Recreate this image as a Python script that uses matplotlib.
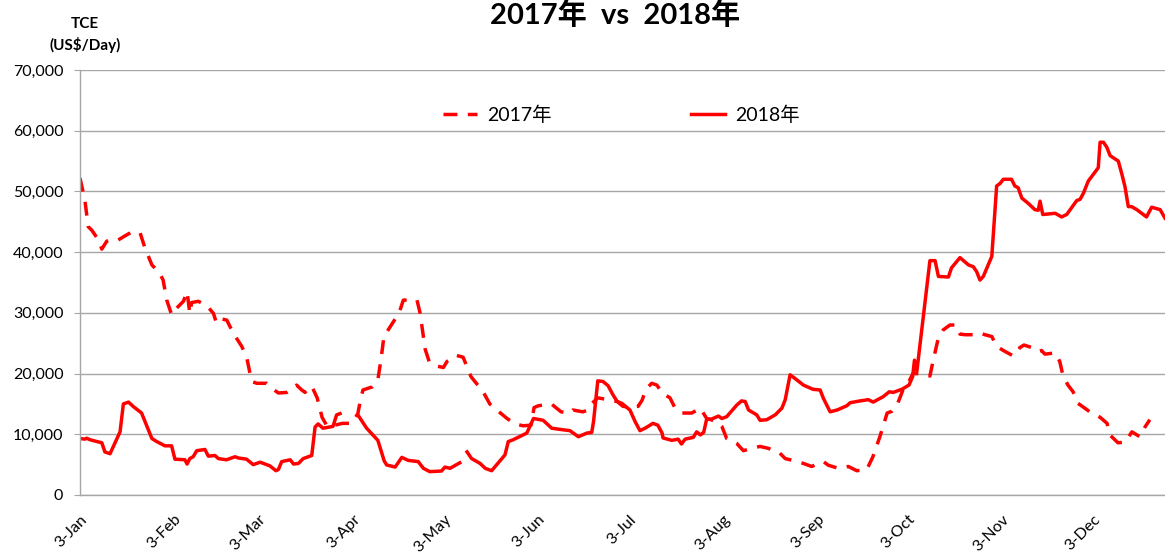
import numpy as np
import pandas as pd
import matplotlib
matplotlib.use("Agg")
import matplotlib.pyplot as plt
from matplotlib.ticker import FuncFormatter
from matplotlib.transforms import ScaledTranslation

plt.rcParams["font.family"] = ["Lato", "Noto Sans CJK SC", "DejaVu Sans"]

# ---------------------------------------------------
# data: x = days since 3-Jan, y = TCE (US$/day)
# ---------------------------------------------------
days_2017 = [0, 1.6, 2.7, 3.9, 6.1, 7.2, 8.8, 10.4, 12.6, 14.9, 17.0, 19.8, 21.4, 23.7, 26.3,
             27.4, 28.6, 30.2, 31.9, 34.1, 35.3, 36.2, 36.8, 39.0, 41.8, 44.0, 45.0, 46.7, 48.4,
             50.6, 53.3, 54.9, 56.0, 56.6, 58.3, 61.5, 63.2, 65.4, 68.2, 70.4, 71.4, 73.1, 74.2,
             75.8, 76.5, 78.2, 79.8, 81.5, 84.0, 86.5, 89.6, 91.6, 92.6, 93.3, 96.3, 98.2, 99.2,
             100.2, 105.2, 106.6, 111.1, 112.1, 113.8, 115.1, 117.0, 119.8, 121.0, 124.0, 126.3,
             128.9, 132.9, 135.1, 137.4, 140.8, 143.4, 146.1, 148.7, 149.7, 151.1, 155.4, 158.6,
             161.5, 162.5, 165.8, 167.5, 168.8, 170.7, 174.1, 177.1, 179.0, 181.3, 184.0, 185.3,
             186.3, 187.3, 188.5, 190.2, 191.9, 194.5, 196.2, 198.4, 201.7, 204.5, 206.6, 210.0,
             211.6, 213.2, 216.5, 218.7, 221.5, 224.2, 226.8, 230.3, 232.5, 234.1, 238.5, 241.2,
             245.1, 246.7, 250.0, 253.3, 256.1, 259.4, 261.4, 263.7, 266.1, 267.7, 269.6, 271.3,
             273.0, 274.6, 277.0, 280.2, 281.2, 282.9, 284.6, 286.8, 288.8, 290.1, 291.8, 294.5,
             296.7, 298.3, 300.6, 302.2, 304.4, 307.7, 309.9, 311.2, 313.7, 315.9, 317.0, 318.1,
             321.5, 323.0, 324.0, 325.7, 327.4, 329.0, 330.7, 332.9, 333.6, 336.3, 338.6, 339.5,
             342.2, 344.5, 346.8, 349.4, 351.1, 352.7]
tce_2017 = [52200, 48600, 44200, 43600, 42000, 40500, 41800, 42100, 42000, 42700, 43300, 43200,
            40700, 37900, 36500, 35400, 32100, 29700, 30800, 31900, 33500, 29900, 31700, 31900,
            31200, 29900, 28300, 29000, 28800, 26600, 24500, 22800, 20100, 18700, 18400, 18400,
            17600, 16800, 16900, 17600, 18100, 17300, 16900, 17900, 17800, 16000, 12800, 11300,
            11500, 11800, 11800, 13400, 16000, 17300, 17800, 19000, 22200, 26100, 30000, 32100,
            32100, 30000, 24000, 22000, 21300, 21000, 22000, 23000, 22700, 19500, 17000, 15000,
            14000, 12600, 11700, 11400, 11500, 14400, 14700, 15000, 13700, 13500, 14000, 13700,
            14000, 15100, 16000, 15700, 15400, 14600, 14500, 14600, 15600, 17000, 17800, 18400,
            18100, 16800, 16000, 14300, 13500, 13500, 14300, 12600, 12100, 11300, 9300, 8500,
            7300, 7700, 8000, 7700, 7100, 6000, 5800, 5200, 4700, 5500, 4900, 4400, 4700, 4000,
            4200, 6300, 9600, 13500, 13800, 15100, 17300, 18400, 20000, 20000, 19600, 22000,
            25700, 27200, 28000, 28000, 26500, 26400, 26400, 26700, 26400, 26100, 24500, 23800,
            22900, 24300, 24700, 24300, 23600, 23800, 23200, 23400, 22000, 19800, 18100, 17000,
            15100, 14500, 13700, 13500, 12800, 11800, 9900, 8600, 8700, 10400, 9600, 11200, 12400]

# nan = no fixing (holidays)
days_2018 = [0, 1.6, 2.2, 3.3, 7.2, 8.2, 9.9, 13.2, 14.3, 16.0, 17.5, 20.3, 23.7, 25.3, 28.0,
             30.2, 31.3, 34.6, 35.3, 36.2, 37.3, 38.5, 41.2, 42.3, 44.5, 45.6, 48.3, 51.1, 52.2,
             54.9, 57.1, 59.4, 62.6, 64.6, 65.4, 66.5, 69.3, 70.4, 72.0, 73.6, 76.4, 77.5, 78.5,
             80.1, 83.4, 84.6, 85.7, 88.5, 91.6, 94.5, 98.2, 100.3, 101.1, 103.9, 106.1, 108.2,
             111.5, 113.2, 115.3, 119.2, 120.3, 122.0, 125.2, 126.4, 127.6, 129.1, 131.9, 133.6,
             135.7, 140.1, 141.2, 142.8, 147.3, 149.5, 152.7, 155.5, 158.3, 161.5, 164.3, 167.1,
             168.7, 169.3, 170.7, 172.4, 174.1, 175.7, 177.1, 178.6, 181.3, 183.0, 184.6, 186.3,
             188.9, 190.5, 191.9, 192.2, 195.1, 197.2, 198.3, 199.5, 202.2, 203.3, 204.5, 205.6,
             206.6, 208.2, 210.5, 211.6, 213.2, 216.5, 218.1, 219.3, 220.4, 223.1, 224.2, 226.4,
             229.2, 231.4, 232.5, 234.1, 235.7, 238.5, 241.7, 244.0, 245.1, 247.3, 249.6, 252.8,
             253.9, 257.2, 259.9, 261.5, 263.7, 264.8, 266.8, 268.1, 270.9, 273.3, 274.5, 275.1,
             275.9, 280.2, 281.9, 283.0, 286.3, 287.3, 290.1, 292.9, 294.5, 295.6, 296.7, 297.8,
             300.6, 302.2, 303.3, 304.4, 307.1, 308.2, 309.3, 310.5, 312.7, 314.8, 315.9, 316.5,
             317.4, 321.5, 323.6, 325.3, 328.6, 329.7, 330.8, 332.4, 335.7, 336.3, 337.4, 338.5,
             339.6, 342.3, 343.4, 344.5, 345.6, 346.7, 348.4, 351.6, 353.3, 356.1, 357.7]
tce_2018 = [9300, 9200, 9350, 9100, 8600, 7100, 6800, 10400, 15000, 15300, 14600, 13500, 9300,
            8800, 8100, 8100, 5900, 5800, 5100, 6000, 6300, 7300, 7500, 6400, 6500, 6000, 5800,
            6300, 6100, 5900, 5000, 5400, 4800, 4000, 4200, 5500, 5800, 5100, 5200, 6000, 6500,
            11200, 11700, 11000, 11300, 13200, 13400, np.nan, 13200, 11000, 9000, 5600, 4950,
            4600, 6200, 5700, 5500, 4400, 3850, 3950, 4600, 4400, 5300, np.nan, 7100, 6000, 5200,
            4400, 4000, 6600, 8800, 9100, 10200, 12600, 12300, 11000, 10800, 10600, 9600, 10200,
            10300, 12100, 18800, 18700, 18000, 16500, 15400, 15100, 14000, 12100, 10600, 11000,
            11800, 11500, 10200, 9400, 9000, 9200, 8400, 9200, 9500, 10400, 9900, 10300, 12500,
            12500, 13000, 12600, 12900, 14800, 15500, 15400, 14000, 13200, 12300, 12400, 13200,
            14300, 15700, 19800, 19200, 18100, 17400, 17300, 15900, 13700, 14000, 14700, 15200,
            15500, 15700, 15300, 15900, 16200, 17000, 16900, 17400, 18100, 19500, 22200, 20400,
            38600, 38600, 36000, 35900, 37400, 39100, 37900, 37600, 36800, 35400, 36000, 39300,
            50900, 51300, 52000, 52000, 50900, 50600, 48900, 48000, 47000, 46900, 48400, 46200,
            46400, 45800, 46200, 48500, 48700, 49700, 51700, 53900, 58100, 58100, 57300, 55900,
            55000, 53000, 50800, 47500, 47500, 47000, 45800, 47400, 47000, 45600]

month_labels = ["3-Jan", "3-Feb", "3-Mar", "3-Apr", "3-May", "3-Jun",
                "3-Jul", "3-Aug", "3-Sep", "3-Oct", "3-Nov", "3-Dec"]
start = pd.Timestamp("2018-01-03")
tick_days = [(pd.Timestamp(2018, m, 3) - start).days for m in range(1, 13)]

# ---------------------------------------------------
# plot
# ---------------------------------------------------
fig = plt.figure(figsize=(11.65, 5.52), dpi=100)
ax = fig.add_axes([80 / 1165, 57 / 552, 1085 / 1165, 425 / 552])

red = "#FF0000"
grey = "#A6A6A6"

ax.plot(days_2017, tce_2017, color=red, lw=2.5, linestyle=(0, (4, 3)), label="2017年")
ax.plot(days_2018, tce_2018, color=red, lw=2.5, label="2018年")

ax.set_xlim(0, 357.7)
ax.set_ylim(0, 70000)
ax.set_yticks(np.arange(0, 70001, 10000))
ax.yaxis.set_major_formatter(FuncFormatter(lambda v, p: f"{v:,.0f}"))
ax.yaxis.grid(True, color=grey, lw=1.0)
ax.set_axisbelow(True)

for s in ["top", "right"]:
    ax.spines[s].set_visible(False)
for s in ["left", "bottom"]:
    ax.spines[s].set_color(grey)
    ax.spines[s].set_linewidth(1.0)

ax.tick_params(axis="y", length=4, color=grey, pad=8, labelsize=11.5)
ax.set_xticks(tick_days)
ax.set_xticklabels(month_labels, rotation=45, ha="right", va="center",
                   rotation_mode="anchor", fontsize=11.5)
ax.tick_params(axis="x", length=0, pad=16)
shift = ScaledTranslation(0.05, 0, fig.dpi_scale_trans)
for lab in ax.get_xticklabels():
    lab.set_transform(lab.get_transform() + shift)

ax.legend(ncol=2, loc="center left", bbox_to_anchor=((443 - 80) / 1085, (495 - 115) / 425),
          frameon=False, fontsize=14, handlelength=1.75, handletextpad=0.5,
          columnspacing=7.2, borderpad=0, borderaxespad=0)

fig.text(615 / 1165, 1 - 15 / 552, "2017年  vs  2018年", fontsize=21, fontweight="bold",
         ha="center", va="center")
fig.text(85 / 1165, 1 - 24 / 552, "TCE", fontsize=11, fontweight="bold", ha="center", va="center")
fig.text(85 / 1165, 1 - 45 / 552, "(US$/Day)", fontsize=11, fontweight="bold",
         ha="center", va="center")

fig.savefig("out.png", dpi=100)
